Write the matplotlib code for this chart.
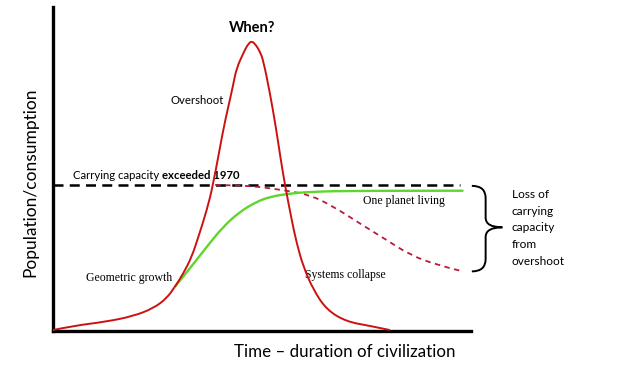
import matplotlib
matplotlib.use("Agg")
from matplotlib import pyplot as plt
from matplotlib.path import Path
from matplotlib.patches import PathPatch

# Curves (time 0-100, population 0-100)
overshoot_t = [0, 4.9, 12.8, 19.2, 24.0, 27.2, 29.2, 31.2, 33.2, 34.8, 36.8, 38.3,
               40.7, 41.9, 43.1, 43.9, 45.7, 46.5, 47.5, 48.6, 49.5, 50.3, 51.9,
               53.3, 54.5, 55.5, 57.1, 58.3, 59.9, 62.3, 65.5, 70.2, 75.8, 80.6]
overshoot_p = [0.3, 1.6, 2.9, 4.6, 7.0, 10.1, 13.7, 17.8, 22.9, 29.1, 37.3, 45.1,
               62.0, 69.0, 75.9, 81.1, 86.2, 88.2, 89.6, 88.2, 86.2, 83.6, 73.4,
               63.1, 52.8, 45.1, 34.3, 27.1, 19.8, 12.7, 6.5, 2.9, 1.6, 0.3]

planet_t = [29.2, 32.8, 36.8, 40.7, 44.7, 48.7, 51.9, 55.9, 61.5, 73.4, 98.2]
planet_p = [13.7, 19.4, 26.0, 32.2, 36.8, 39.9, 41.4, 42.3, 43.0, 43.3, 43.3]

capacity_t = [0, 97.4]
capacity_p = [45.1, 45.1]

lost_t = [38.8, 44.7, 49.5, 55.9, 61.5, 67.1, 73.4, 79.8, 85.4, 91.8, 97.4]
lost_p = [45.1, 44.9, 44.5, 43.3, 42.0, 38.4, 33.2, 28.1, 23.5, 20.4, 18.6]


def smooth_path(xs, ys):
    # quadratic Bezier through the read points, points used as control points
    pts = list(zip(xs, ys))
    verts = [pts[0]]
    codes = [Path.MOVETO]
    for i in range(1, len(pts) - 1):
        mid = ((pts[i][0] + pts[i + 1][0]) / 2, (pts[i][1] + pts[i + 1][1]) / 2)
        if i == len(pts) - 2:
            mid = pts[-1]
        verts += [pts[i], mid]
        codes += [Path.CURVE3, Path.CURVE3]
    return Path(verts, codes)


fig = plt.figure(figsize=(6.43, 3.68), dpi=100)
ax = fig.add_axes([0.0824, 0.1005, 0.6501, 0.8805])
ax.set_xlim(0, 100)
ax.set_ylim(0, 100)
ax.set_xticks([])
ax.set_yticks([])
for s in ["top", "right"]:
    ax.spines[s].set_visible(False)
for s in ["left", "bottom"]:
    ax.spines[s].set_linewidth(2.4)

ax.plot(capacity_t, capacity_p, color="black", lw=1.8, dashes=(4, 2.5), zorder=2)
ax.add_patch(PathPatch(smooth_path(lost_t, lost_p), fill=False, color="#b81c3a",
                       lw=1.3, linestyle=(0, (3, 2.5)), zorder=3))
ax.add_patch(PathPatch(smooth_path(planet_t, planet_p), fill=False, color="#5fd62a",
                       lw=1.7, zorder=4))
ax.add_patch(PathPatch(smooth_path(overshoot_t, overshoot_p), fill=False,
                       color="#cc1111", lw=1.4, zorder=5))

sans = "Lato"
serif = "Liberation Serif"
ax.text(47.6, 93.5, "When?", ha="center", va="center", fontsize=10.5,
        fontweight="bold", family=sans)
ax.text(28.2, 71.0, "Overshoot", ha="left", va="center", fontsize=8.2, family=sans)
t1 = ax.text(4.8, 48.1, "Carrying capacity ", ha="left", va="center",
             fontsize=8.2, family=sans)
ax.annotate("exceeded 1970", xy=(1, 0), xycoords=t1, va="bottom",
            fontsize=8.2, fontweight="bold", family=sans)
ax.text(74.2, 40.1, "One planet living", ha="left", va="center", fontsize=8.5, family=serif)
ax.text(7.9, 16.4, "Geometric growth", ha="left", va="center", fontsize=8.5, family=serif)
ax.text(60.3, 17.3, "Systems collapse", ha="left", va="center", fontsize=8.5, family=serif)

# curly brace next to the lost capacity
verts = [(100.2, 44.8), (103.5, 44.8), (103.5, 41.0),
         (103.5, 35.0), (103.5, 32.0), (107.5, 32.0),
         (103.5, 32.0), (103.5, 29.0), (103.5, 22.2),
         (103.5, 18.4), (100.2, 18.4)]
codes = [Path.MOVETO, Path.CURVE3, Path.CURVE3,
         Path.LINETO, Path.CURVE3, Path.CURVE3,
         Path.CURVE3, Path.CURVE3, Path.LINETO,
         Path.CURVE3, Path.CURVE3]
ax.add_patch(PathPatch(Path(verts, codes), fill=False, lw=1.4, color="black",
                       clip_on=False))
ax.text(109.8, 43.9, "Loss of\ncarrying\ncapacity\nfrom\novershoot", ha="left",
        va="top", fontsize=8.6, family=sans, linespacing=1.65, clip_on=False)

fig.text(0.0467, 0.505, "Population/consumption", rotation=90, ha="center",
         va="center", fontsize=12.5, family=sans)
fig.text(0.5365, 0.0435, "Time \u2013 duration of civilization", ha="center",
         va="center", fontsize=12.2, family=sans)

fig.savefig("out.png", dpi=100)
